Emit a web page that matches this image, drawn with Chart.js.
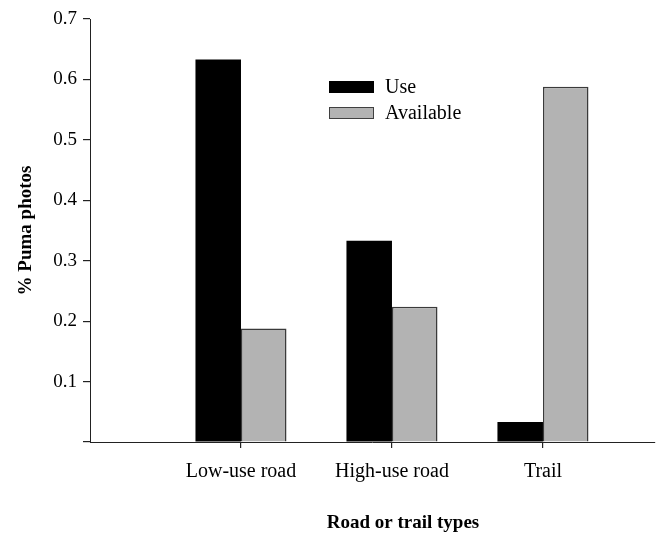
<!DOCTYPE html>
<html>
<head>
<meta charset="utf-8">
<script src="https://cdn.jsdelivr.net/npm/chart.js@4.4.1/dist/chart.umd.min.js"></script>
<style>
  html, body { margin: 0; padding: 0; background: white; }
  .wrap { position: relative; width: 659px; height: 535px; }
</style>
</head>
<body>
<div class="wrap"><canvas id="c"></canvas></div>
<script>
// Puma photo use vs. availability by road / trail type

const categories = ['Low-use road', 'High-use road', 'Trail'];
const useValues = [0.633, 0.333, 0.033];
const availableValues = [0.188, 0.224, 0.588];
const yTicks = [0, 0.1, 0.2, 0.3, 0.4, 0.5, 0.6, 0.7];

const SERIF = "'Liberation Serif', 'Times New Roman', serif";
const AXIS = '#222222';

// categories sit at x = 1, 2, 3 on a linear axis so the empty
// space left of the first group matches the original
const positions = categories.map(function (c, i) { return i + 1; });

function points(values) {
    return values.map(function (v, i) { return { x: positions[i], y: v }; });
}

// legend + x title drawn straight on the canvas
const extras = {
    id: 'extras',
    afterDraw: function (chart) {
        const ctx = chart.ctx;
        ctx.save();
        const items = [
            { text: 'Use', fill: '#000000', stroke: '#000000', y: 81 },
            { text: 'Available', fill: '#b3b3b3', stroke: '#404040', y: 107 }
        ];
        ctx.font = '20px ' + SERIF;
        ctx.textBaseline = 'middle';
        ctx.textAlign = 'left';
        items.forEach(function (it) {
            ctx.fillStyle = it.fill;
            ctx.fillRect(329, it.y, 45, 12);
            ctx.strokeStyle = it.stroke;
            ctx.lineWidth = 1;
            ctx.strokeRect(329.5, it.y + 0.5, 44, 11);
            ctx.fillStyle = '#000';
            ctx.fillText(it.text, 385, it.y + 7);
        });
        ctx.font = 'bold 19px ' + SERIF;
        ctx.textAlign = 'center';
        ctx.fillText('Road or trail types', 403, 523);
        ctx.restore();
    }
};

const chart = new Chart(document.getElementById('c'), {
    type: 'bar',
    data: {
        datasets: [
            { label: 'Use', data: points(useValues),
              backgroundColor: '#000000', borderColor: '#000000', borderWidth: 0 },
            { label: 'Available', data: points(availableValues),
              backgroundColor: '#b3b3b3', borderColor: '#3a3a3a', borderWidth: 1.5,
              borderSkipped: 'start' }
        ]
    },
    options: {
        responsive: true,
        maintainAspectRatio: false,
        animation: false,
        layout: { padding: { left: 0, top: 19, right: 4, bottom: 0 } },
        datasets: { bar: { categoryPercentage: 0.603, barPercentage: 1, grouped: true } },
        scales: {
            x: {
                type: 'linear',
                offset: false,
                min: 0,
                max: 3.742,
                border: { display: true, color: AXIS, width: 1 },
                grid: { offset: false, drawOnChartArea: false, drawTicks: true,
                        tickLength: 6, color: AXIS, lineWidth: 1.2 },
                afterBuildTicks: function (scale) {
                    scale.ticks = positions.map(function (p) { return { value: p }; });
                },
                afterFit: function (scale) { scale.height = 93; },
                ticks: {
                    autoSkip: false,
                    maxRotation: 0,
                    padding: 12,
                    color: '#000',
                    font: { family: SERIF, size: 20 },
                    callback: function (v) { return categories[v - 1]; }
                }
            },
            y: {
                min: 0,
                max: 0.7,
                border: { display: true, color: AXIS, width: 1 },
                grid: { drawOnChartArea: false, drawTicks: true, tickLength: 7,
                        color: AXIS, lineWidth: 1.2 },
                afterBuildTicks: function (scale) {
                    scale.ticks = yTicks.map(function (v) { return { value: v }; });
                },
                afterFit: function (scale) { scale.width = 90; },
                title: {
                    display: true,
                    text: '% Puma photos',
                    color: '#000',
                    font: { family: SERIF, size: 19, weight: 'bold' },
                    padding: { top: 15, bottom: 0 }
                },
                ticks: {
                    padding: 6,
                    color: '#000',
                    font: { family: SERIF, size: 19 },
                    callback: function (v) { return v === 0 ? '' : v.toFixed(1); }
                }
            }
        },
        plugins: {
            legend: { display: false },
            tooltip: { enabled: true }
        }
    },
    plugins: [extras]
});
</script>
</body>
</html>
